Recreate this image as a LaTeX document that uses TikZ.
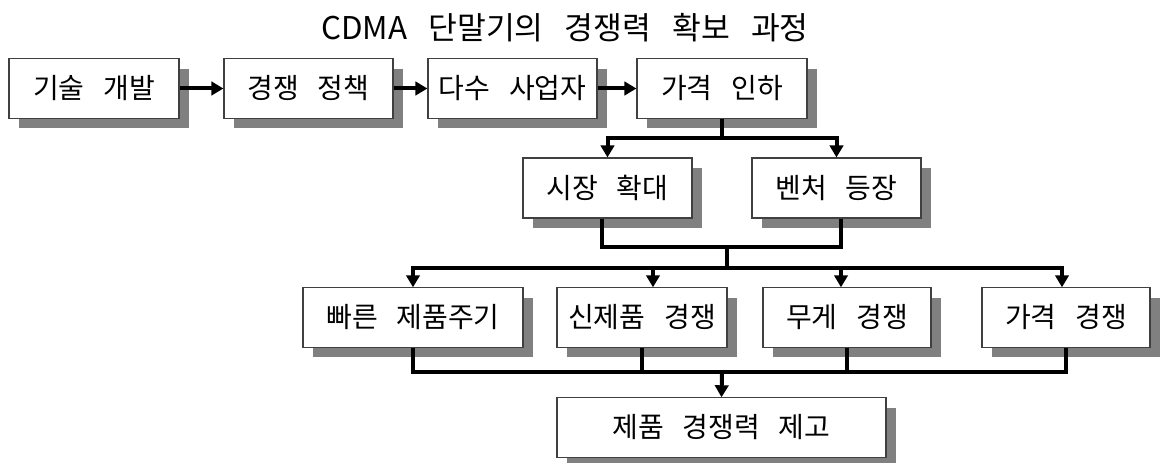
\documentclass[tikz,border=0pt]{standalone}
\usepackage{fontspec}
\setmainfont{Noto Sans CJK KR}[WordSpace=3]
\usetikzlibrary{arrows.meta,shadows}
\begin{document}
\begin{tikzpicture}[x=0.75pt,y=-0.75pt,
  box/.style={draw=black!75, line width=0.8pt, fill=white, inner sep=0pt,
    minimum height=44.5pt, font=\fontsize{21pt}{25pt}\selectfont,
    drop shadow={shadow xshift=7.5pt, shadow yshift=-7.5pt, fill=black!50, opacity=1}},
  line/.style={line width=3pt},
  arr/.style={line width=3pt, -{Triangle[length=9pt,width=10pt]}}]
\useasboundingbox (0,0) rectangle (1160,463);

\node[font=\fontsize{23.5pt}{28pt}\selectfont] (T) at (565,28) {CDMA 단말기의 경쟁력 확보 과정};

\node[box, minimum width=127.5pt]  (A) at (94,88.5)   {기술 개발};
\node[box, minimum width=126.75pt] (B) at (308.5,88.5) {경쟁 정책};
\node[box, minimum width=126.75pt] (C) at (512.5,88.5) {다수 사업자};
\node[box, minimum width=127.5pt]  (D) at (722,88.5)   {가격 인하};

\node[box, minimum width=126.75pt, minimum height=45pt] (E) at (607.5,188) {시장 확대};
\node[box, minimum width=126.75pt, minimum height=45pt] (F) at (836.5,188) {벤처 등장};

\node[box, minimum width=165pt]   (G) at (413,317.5)  {빠른 제품주기};
\node[box, minimum width=127.5pt] (H) at (642,317.5)  {신제품 경쟁};
\node[box, minimum width=126pt]   (I) at (847,317.5)  {무게 경쟁};
\node[box, minimum width=126pt]   (J) at (1066,317.5) {가격 경쟁};

\node[box, minimum width=246.75pt] (K) at (721.5,427.5) {제품 경쟁력 제고};

\coordinate (d1) at (722,138);
\coordinate (j1) at (727,247);
\coordinate (j2) at (727,268);
\coordinate (m1) at (722,372);

\draw[arr] (A) -- (B);
\draw[arr] (B) -- (C);
\draw[arr] (C) -- (D);

\draw[line] (D.south) -- (d1);
\draw[arr] (d1) -| (E.north);
\draw[arr] (d1) -| (F.north);

\draw[line] ([xshift=-4pt]E.south) |- (j1) -| ([xshift=3.5pt]F.south);
\draw[line] (j1) -- (j2);

\draw[arr] (j2) -| (G.north);
\draw[arr] (j2) -| ([xshift=8.25pt]H.north);
\draw[arr] (j2) -| ([xshift=-4.5pt]I.north);
\draw[arr] (j2) -| ([xshift=-3pt]J.north);

\draw[line] (G.south) |- (m1) -| (J.south);
\draw[line] (H.south) -- (H.south |- m1);
\draw[line] (I.south) -- (I.south |- m1);
\draw[arr] (m1) -- (K.north);
\end{tikzpicture}
\end{document}
